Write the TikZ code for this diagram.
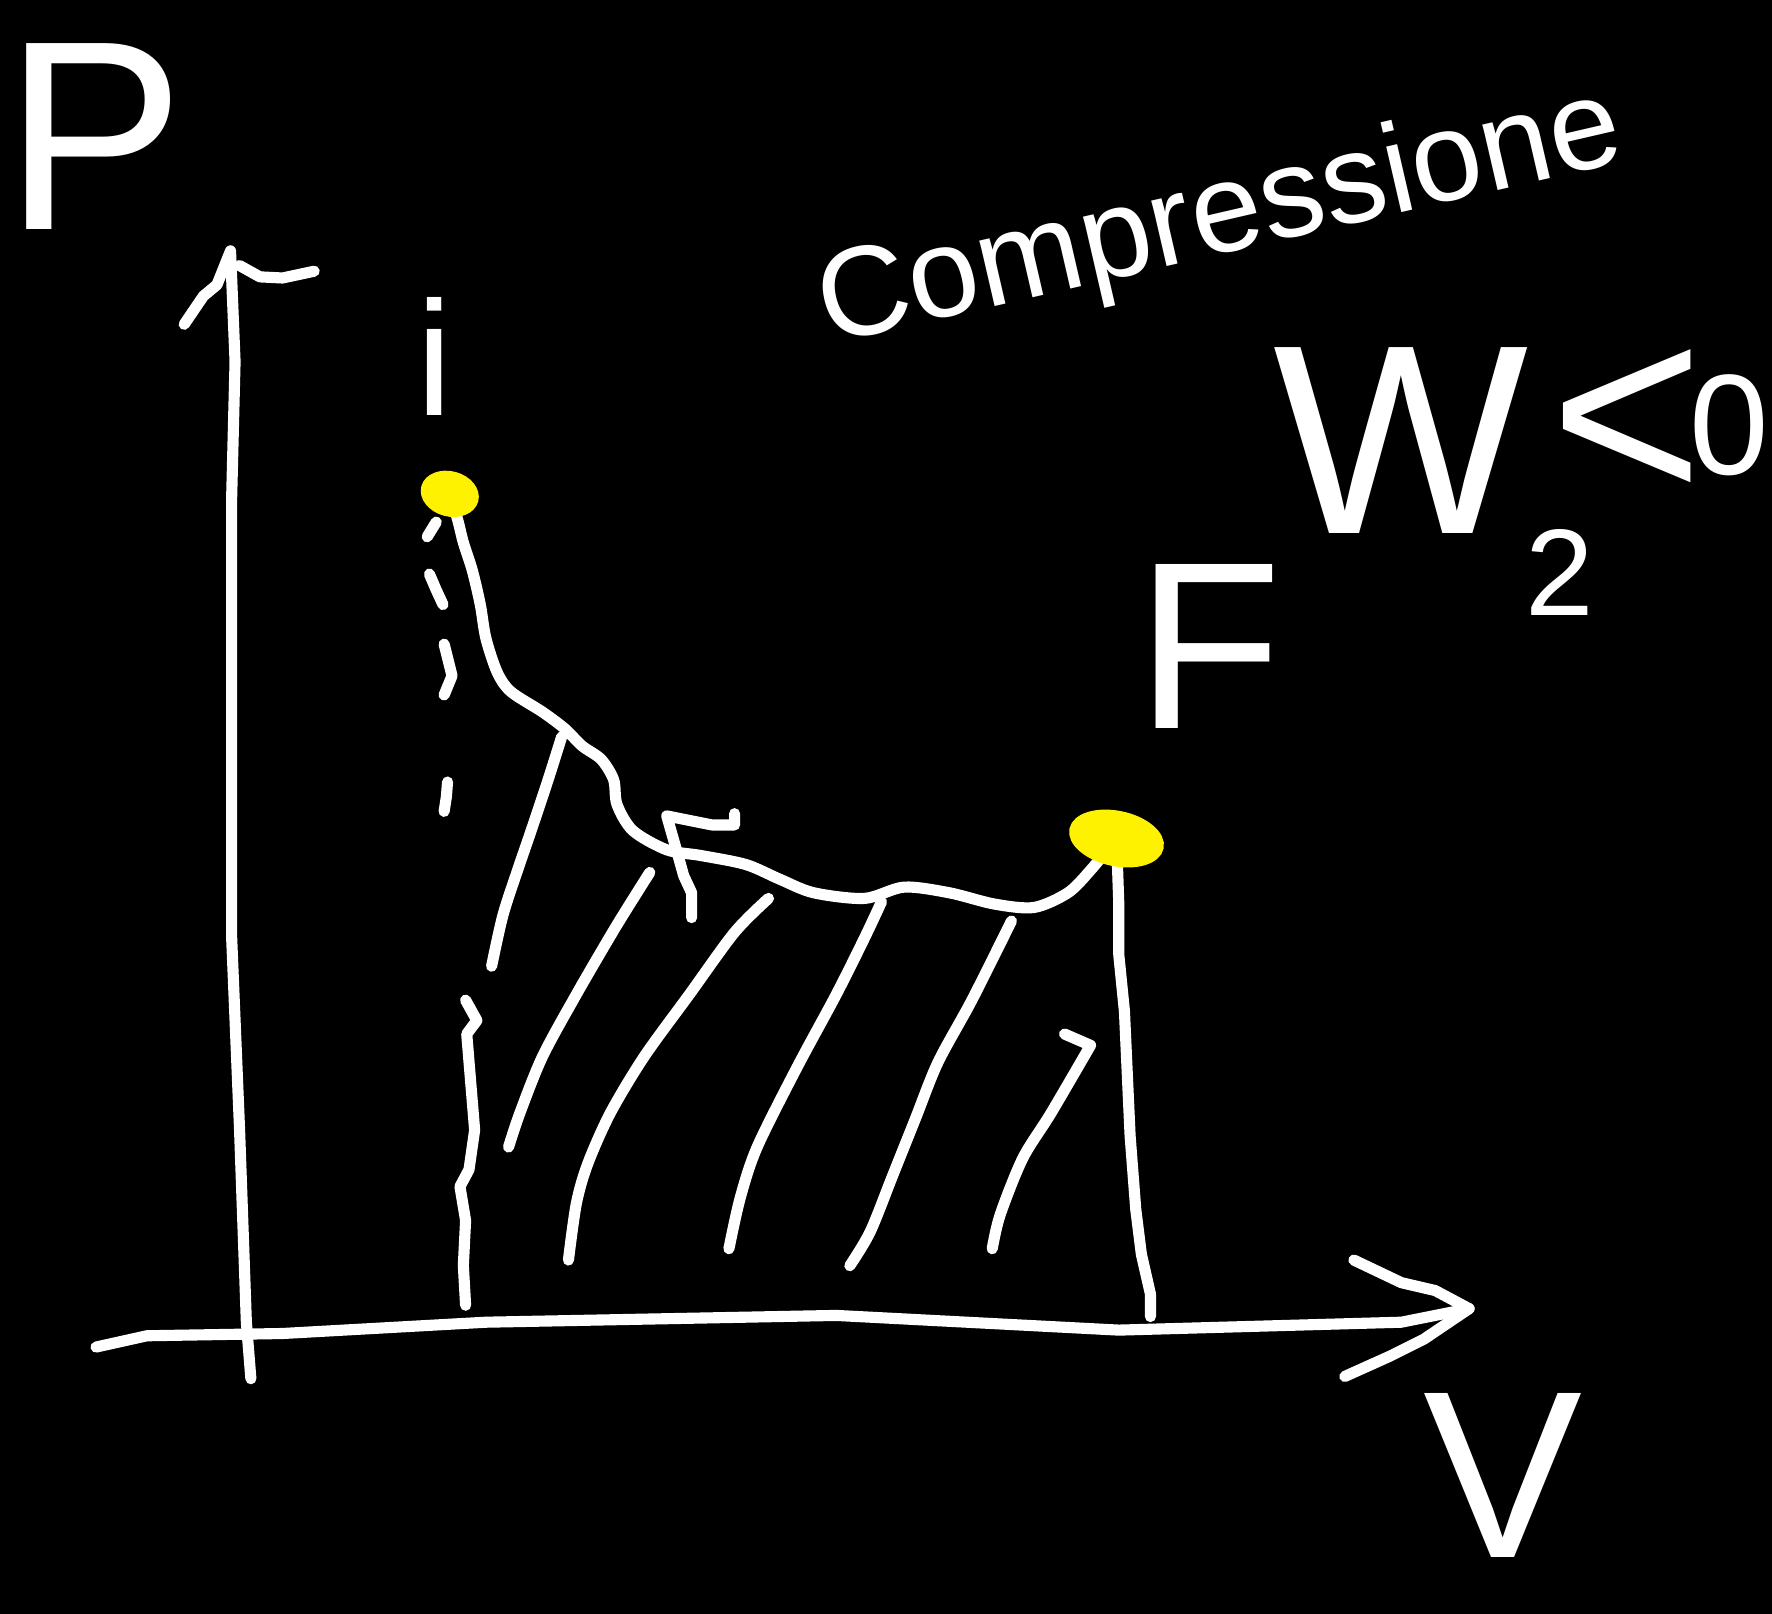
\documentclass[tikz,border=0pt]{standalone}
\usepackage{fontspec}
\setmainfont{Liberation Sans}
\usetikzlibrary{shapes.geometric}
\definecolor{hl}{HTML}{FFF200}
\tikzset{
  pen/.style={draw=white, line width=2.8pt, line cap=round, line join=round},
  lbl/.style={text=white, inner sep=0pt},
  dotmark/.style={ellipse, fill=hl, draw=hl, line width=2pt, inner sep=0pt},
}
\begin{document}
\begin{tikzpicture}[x=0.01cm, y=-0.01cm]
\fill[black] (0,0) rectangle (1568,1428);
\useasboundingbox (0,0) rectangle (1568,1428);
\clip (0,0) rectangle (1568,1428);

% axes
\coordinate (pbot) at (222,1220);
\coordinate (ptip) at (204,222);
\coordinate (vleft) at (85,1192);
\coordinate (vtip) at (1300,1158);
\draw[pen] (pbot) -- (218,1170) -- (212,1000) -- (205,830) -- (205,440) -- (208,320) -- (ptip);
\draw[pen] (163,287) -- (180,262) -- (192,252) -- (ptip);
\draw[pen] (212,235) -- (230,245) -- (250,246) -- (278,240);
\draw[pen] (vleft) -- (130,1182) -- (250,1180) -- (430,1170) -- (740,1164) -- (990,1177) -- (1240,1170) -- (vtip);
\draw[pen] (1198,1115) -- (1240,1135) -- (1270,1142) -- (vtip);
\draw[pen] (vtip) -- (1260,1185) -- (1230,1200) -- (1190,1218);

% labels of axes
\node[lbl, anchor=base, font=\fontsize{68}{72}\selectfont] (P) at (84,203) {P};
\node[lbl, anchor=base, font=\fontsize{60}{64}\selectfont] (V) at (1330,1378) {V};

% state points
\coordinate (pi) at (398,437);
\coordinate (pf) at (988,742);

% process curve
\draw[pen] plot[smooth, tension=0.5] coordinates {(pi) (405,460) (410,480) (418,505) (425,535) (430,565) (440,595) (452,612) (480,630) (500,645) (515,660) (532,672) (543,690) (546,712) (560,735) (590,752) (620,757) (660,765) (690,778) (720,790) (765,795) (800,785) (840,790) (880,800) (915,803) (945,790) (965,770) (pf)};

% dashed line at V_i
\draw[pen] (386,462) -- (378,475);
\draw[pen] (380,508) -- (386,522) -- (392,535);
\draw[pen] (393,570) -- (400,598) -- (393,615);
\draw[pen] (396,692) -- (395,705) -- (393,718);
\draw[pen] (412,885) -- (422,903) -- (413,915) -- (420,1000) -- (415,1035) -- (407,1050) -- (412,1080) -- (410,1120) -- (412,1155);

% line at V_f
\draw[pen] (pf) -- (990,800) -- (990,845) -- (995,895) -- (1000,1005) -- (1005,1070) -- (1010,1110) -- (1018,1145) -- (1018,1165);

% hatching
\draw[pen] plot[smooth] coordinates {(435,855) (445,810) (458,770) (470,735) (485,690) (497,652)};
\draw[pen] plot[smooth] coordinates {(450,1015) (460,985) (480,935) (510,880) (545,820) (575,772)};
\draw[pen] plot[smooth] coordinates {(503,1115) (510,1065) (520,1030) (540,985) (570,935) (610,880) (650,825) (680,795)};
\draw[pen] plot[smooth] coordinates {(645,1105) (655,1060) (670,1015) (705,945) (740,880) (765,830) (780,798)};
\draw[pen] plot[smooth] coordinates {(752,1120) (770,1090) (790,1040) (810,990) (830,940) (860,885) (895,815)};
\draw[pen] plot[smooth] coordinates {(878,1105) (885,1075) (905,1025) (930,985) (965,925)} -- (942,915);
\draw[pen] (612,812) -- (612,790) -- (605,775) -- (598,750) -- (590,722) -- (630,730) -- (650,730) -- (650,720);

% state markers
\node[dotmark, minimum width=0.45cm, minimum height=0.33cm, rotate=-15] (i) at (pi) {};
\node[dotmark, minimum width=0.78cm, minimum height=0.42cm, rotate=-12] (F) at (pf) {};

\node[lbl, anchor=base, font=\fontsize{41}{45}\selectfont] (ilabel) at (385,368) {i};
\node[lbl, anchor=base, font=\fontsize{60}{64}\selectfont] (Flabel) at (1070,645) {F};

% title
\node[lbl, font=\fontsize{32}{36}\selectfont, rotate=13] (title) at (1080,195) {Compressione};

% W_2 < 0
\node[lbl, anchor=base, font=\fontsize{68}{72}\selectfont] (W) at (1240,472) {W};
\node[lbl, anchor=base, font=\fontsize{31}{34}\selectfont] (sub) at (1380,545) {2};
\node[lbl, anchor=base, font=\fontsize{66}{70}\selectfont] (lt) at (1440,445) {<};
\node[lbl, anchor=base, font=\fontsize{36}{40}\selectfont] (zero) at (1530,420) {0};
\end{tikzpicture}
\end{document}
